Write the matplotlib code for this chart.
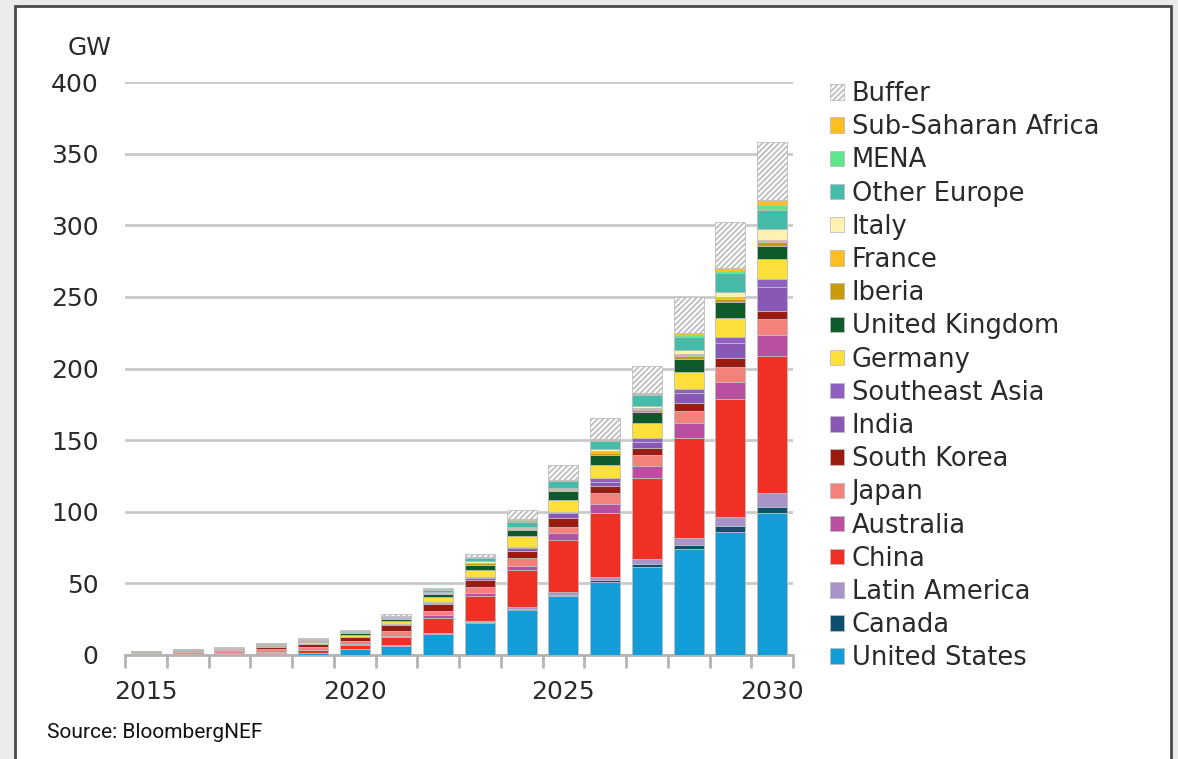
import matplotlib
matplotlib.use("Agg")
import matplotlib.pyplot as plt
from matplotlib.patches import Rectangle
import numpy as np

plt.rcParams['font.family'] = ['DejaVu Sans']
plt.rcParams['hatch.linewidth'] = 1.3
plt.rcParams['hatch.color'] = '#b8b8b8'

# storage deployment by market, GW (cumulative)
years = list(range(2015, 2031))
us        = [0.3, 0.3, 0.4, 0.6, 1.4, 4.2, 6.5, 14.8, 22.5, 31.7, 41.0, 50.7, 61.1, 73.7, 86.0, 99.3]
canada    = [0.0, 0.05, 0.05, 0.05, 0.1, 0.1, 0.2, 0.3, 0.4, 0.5, 1.2, 1.6, 2.3, 3.0, 4.0, 4.1]
latam     = [0.05, 0.05, 0.05, 0.1, 0.1, 0.2, 0.3, 0.4, 0.8, 1.4, 1.8, 2.3, 3.4, 4.7, 6.5, 9.6]
china     = [0.1, 0.2, 0.4, 0.8, 1.6, 2.3, 5.8, 10.4, 17.4, 25.4, 36.0, 44.5, 56.5, 69.8, 82.0, 95.7]
australia = [0.2, 0.3, 0.4, 0.6, 0.6, 0.6, 0.8, 2.3, 2.3, 3.3, 5.0, 6.2, 8.7, 10.9, 12.3, 14.4]
japan     = [0.8, 1.0, 1.3, 2.2, 1.8, 2.6, 3.5, 2.8, 4.2, 5.3, 4.6, 7.6, 7.4, 8.4, 10.5, 11.8]
s_korea   = [0.2, 0.3, 0.8, 1.3, 1.9, 2.5, 3.5, 4.9, 5.1, 5.3, 5.8, 5.3, 5.1, 5.5, 5.8, 5.5]
india     = [0.0, 0.05, 0.05, 0.1, 0.1, 0.2, 0.5, 0.6, 1.2, 2.0, 3.5, 2.8, 4.1, 6.6, 10.4, 16.8]
se_asia   = [0.0, 0.0, 0.05, 0.05, 0.1, 0.1, 0.3, 0.3, 0.6, 0.8, 1.1, 2.3, 3.0, 3.4, 4.7, 5.5]
germany   = [0.4, 0.5, 0.6, 0.8, 1.2, 1.2, 2.3, 3.7, 5.1, 7.4, 8.1, 9.6, 10.2, 11.7, 12.8, 13.8]
uk        = [0.3, 0.4, 0.4, 0.7, 1.2, 1.3, 1.2, 2.1, 3.5, 4.2, 6.4, 7.0, 7.6, 8.6, 11.6, 8.9]
iberia    = [0.1, 0.2, 0.1, 0.2, 0.2, 0.2, 0.3, 0.4, 0.8, 0.8, 0.8, 1.4, 1.6, 2.2, 2.0, 2.6]
france    = [0.1, 0.2, 0.1, 0.1, 0.2, 0.2, 0.3, 0.3, 0.6, 0.6, 0.6, 0.9, 1.1, 1.5, 1.5, 1.8]
italy     = [0.1, 0.2, 0.2, 0.2, 0.2, 0.2, 0.3, 0.5, 0.9, 0.9, 0.9, 1.8, 1.9, 2.7, 3.0, 7.7]
other_eu  = [0.1, 0.1, 0.2, 0.3, 0.5, 0.6, 1.0, 1.4, 2.2, 3.5, 4.6, 5.1, 7.3, 9.4, 13.5, 13.4]
mena      = [0.0, 0.05, 0.05, 0.1, 0.2, 0.2, 0.6, 0.5, 0.8, 1.1, 0.5, 0.7, 0.9, 1.2, 1.6, 2.9]
ssa       = [0.0, 0.0, 0.0, 0.0, 0.0, 0.0, 0.1, 0.2, 0.3, 0.4, 0.5, 1.1, 1.0, 1.2, 1.7, 3.6]
buffer    = [0.1, 0.1, 0.2, 0.4, 0.4, 0.5, 1.0, 1.0, 2.1, 6.3, 9.9, 14.3, 18.5, 25.6, 32.5, 40.9]

series = [
    ("United States", us, "#129dd9"),
    ("Canada", canada, "#0d506c"),
    ("Latin America", latam, "#a894c9"),
    ("China", china, "#ee3124"),
    ("Australia", australia, "#b94fa1"),
    ("Japan", japan, "#f3827a"),
    ("South Korea", s_korea, "#9a1b10"),
    ("India", india, "#8758b5"),
    ("Southeast Asia", se_asia, "#8e60bf"),
    ("Germany", germany, "#fde13a"),
    ("United Kingdom", uk, "#0f5a2b"),
    ("Iberia", iberia, "#c99a0a"),
    ("France", france, "#fbbf22"),
    ("Italy", italy, "#fff2b2"),
    ("Other Europe", other_eu, "#45bcaa"),
    ("MENA", mena, "#5fe58c"),
    ("Sub-Saharan Africa", ssa, "#fbbf22"),
    ("Buffer", buffer, "white"),
]

W, H = 1178, 759
fig = plt.figure(figsize=(W / 100, H / 100), dpi=100)
fig.patch.set_facecolor('#ebebeb')
# white panel with dark frame, behind the axes
fig.patches.append(Rectangle((15 / W, -0.05), (1171 - 15) / W, 1.05 - 6 / H,
                             transform=fig.transFigure, facecolor='white',
                             edgecolor='#4a4a4a', lw=2, zorder=-5))

ax = fig.add_axes([125 / W, (H - 655) / H, (793 - 125) / W, (655 - 82) / H])
ax.set_facecolor('none')

x = np.arange(len(years))
bottom = np.zeros(len(years))
handles = []
for name, vals, col in series:
    vals = np.array(vals)
    hatch = '//////' if name == "Buffer" else None
    bars = ax.bar(x, vals, 0.72, bottom=bottom, color=col, edgecolor='#bdbdbd',
                  linewidth=0.6, hatch=hatch, zorder=3, label=name)
    handles.append(bars)
    bottom += vals

ax.set_xlim(-0.5, len(years) - 0.5)
ax.set_ylim(0, 400)
ax.set_yticks(range(0, 401, 50))
ax.yaxis.grid(True, color='#cacaca', lw=2)
ax.set_axisbelow(True)

for s in ['left', 'top', 'right']:
    ax.spines[s].set_visible(False)
ax.spines['bottom'].set_color('#b4b4b4')
ax.spines['bottom'].set_linewidth(2)

txt = '#2a2a2a'
ax.tick_params(axis='y', length=0, pad=19, labelsize=18, labelcolor=txt)
ax.set_xticks([0, 5, 10, 15])
ax.set_xticklabels(["2015", "2020", "2025", "2030"])
ax.tick_params(axis='x', which='major', length=0, pad=18, labelsize=18, labelcolor=txt)
ax.set_xticks(np.arange(-0.5, len(years)), minor=True)
ax.tick_params(axis='x', which='minor', length=9, width=2, color='#b4b4b4')

fig.text(68 / W, 1 - 48 / H, "GW", ha='left', va='center', fontsize=18, color=txt)
fig.text(47 / W, 1 - 733 / H, "Source: BloombergNEF", ha='left', va='center',
         fontsize=15, family=['Roboto', 'DejaVu Sans'], color='#111111')

ax.legend(handles[::-1], [s[0] for s in series][::-1], loc='upper left',
          bbox_to_anchor=(830 / W, 1 - 81 / H), bbox_transform=fig.transFigure,
          frameon=False, fontsize=18.5, handlelength=0.55, handleheight=0.55,
          handletextpad=0.3, labelspacing=0.28, borderpad=0, borderaxespad=0,
          labelcolor=txt)

fig.savefig("out.png", dpi=100)
